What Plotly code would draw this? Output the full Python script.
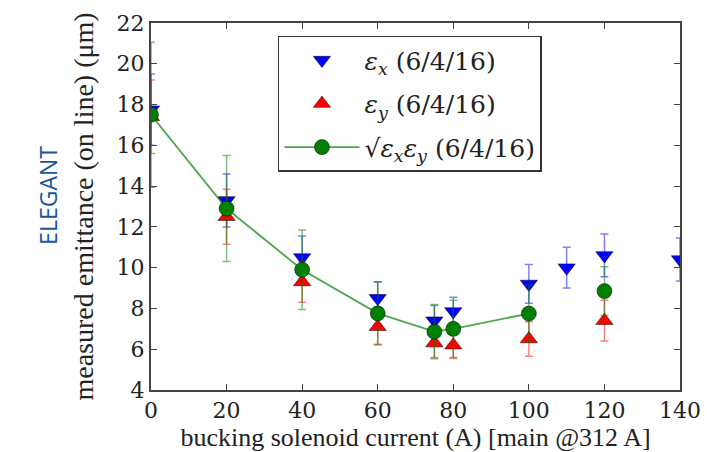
import plotly.graph_objects as go

# Data
x_ex = [0, 20, 40, 60, 75, 80, 100, 110, 120, 140]
ex = [17.75, 13.3, 10.5, 8.5, 7.4, 7.85, 9.2, 10.0, 10.6, 10.4]
ex_err = [1.75, 1.3, 1.05, 0.8, 0.75, 0.7, 0.95, 1.0, 1.05, 1.05]

x_ey = [0, 20, 40, 60, 75, 80, 100, 120]
ey = [17.4, 12.5, 9.3, 7.1, 6.3, 6.2, 6.5, 7.4]
ey_err = [1.8, 1.35, 1.0, 0.85, 0.7, 0.65, 0.85, 1.0]

x_g = [0, 20, 40, 60, 75, 80, 100]
eg = [17.5, 12.9, 9.9, 7.76, 6.86, 7.0, 7.75]
eg_err = [3.55, 2.6, 1.95, 1.55, 1.33, 1.4, 1.4]

x_g2 = [120]
eg2 = [8.85]
eg2_err = [1.2]

serif = "Liberation Serif"
tserif = "DejaVu Serif"

fig = go.Figure()

fig.add_trace(go.Scatter(
    x=x_ex, y=ex, mode="markers", name="<i>ε<sub>x</sub></i> (6/4/16)", legendgroup="a",
    marker=dict(symbol="triangle-down", size=15, color="#0000ff", line=dict(color="#000", width=0.5)),
    error_y=dict(type="data", array=ex_err, color="rgba(0,0,255,0.5)", thickness=1.5, width=4),
))
fig.add_trace(go.Scatter(
    x=x_ey, y=ey, mode="markers", name="<i>ε<sub>y</sub></i> (6/4/16)", legendgroup="b",
    marker=dict(symbol="triangle-up", size=15, color="#ff0000", line=dict(color="#000", width=0.5)),
    error_y=dict(type="data", array=ey_err, color="rgba(255,0,0,0.5)", thickness=1.5, width=4),
))
fig.add_trace(go.Scatter(
    x=x_g, y=eg, mode="lines+markers", name="√<i>ε<sub>x</sub>ε<sub>y</sub></i> (6/4/16)", legendgroup="c",
    line=dict(color="rgba(0,128,0,0.7)", width=1.8),
    marker=dict(symbol="circle", size=15, color="#008000", line=dict(color="#000", width=0.5)),
    error_y=dict(type="data", array=eg_err, color="rgba(0,128,0,0.5)", thickness=1.5, width=4),
))
fig.add_trace(go.Scatter(
    x=x_g2, y=eg2, mode="markers", showlegend=False, legendgroup="c",
    marker=dict(symbol="circle", size=15, color="#008000", line=dict(color="#000", width=0.5)),
    error_y=dict(type="data", array=eg2_err, color="rgba(0,128,0,0.5)", thickness=1.5, width=4),
))

axis_common = dict(
    showline=True, linecolor="#444", linewidth=2, mirror="ticks",
    ticks="inside", ticklen=6, tickcolor="#444", tickwidth=1,
    showgrid=False, zeroline=False, automargin=False,
    tickfont=dict(family=tserif, size=22, color="#222"),
)

fig.update_layout(
    width=707, height=452,
    font=dict(family=serif, color="#222"),
    margin=dict(l=151, r=27, t=23, b=62),
    paper_bgcolor="white", plot_bgcolor="white",
    xaxis=dict(range=[0, 140], tickvals=[0, 20, 40, 60, 80, 100, 120, 140],
               title=dict(text="bucking solenoid current (A) [main @312 A]",
                          font=dict(family=serif, size=26, color="#222")),
               **axis_common),
    yaxis=dict(range=[4, 22], tickvals=[4, 6, 8, 10, 12, 14, 16, 18, 20, 22],
               title=dict(text="measured emittance (on line) (μm)",
                          font=dict(family=serif, size=28, color="#222")),
               **axis_common),
    legend=dict(x=0.24, y=0.965, xanchor="left", yanchor="top",
                bgcolor="white", bordercolor="#333", borderwidth=1.5,
                font=dict(family=tserif, size=25, color="#222"),
                itemwidth=75, traceorder="grouped", tracegroupgap=8),
    showlegend=True,
)

fig.add_annotation(
    text="ELEGANT", xref="paper", yref="paper", x=-0.228, y=0.53,
    showarrow=False, textangle=-90,
    font=dict(family="Open Sans", size=23, color="#1a56a0"),
)

fig.write_html("out.html")
